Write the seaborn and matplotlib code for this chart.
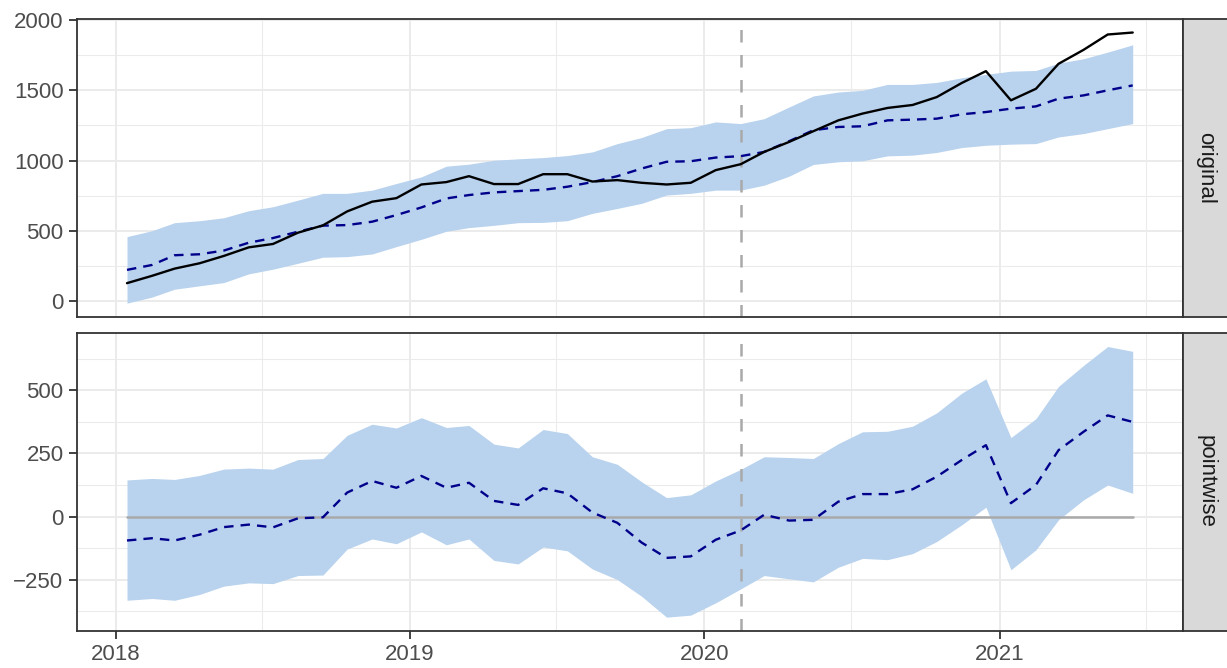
import numpy as np
import pandas as pd
import matplotlib
matplotlib.use("Agg")
import matplotlib.pyplot as plt
import matplotlib.dates as mdates
import seaborn as sns

# --------------------------
# Data
# --------------------------
dates = pd.date_range("2018-01-01", periods=42, freq="MS") + pd.Timedelta(days=14)
intervention = pd.Timestamp("2020-02-15")
panel_labels = ["original", "pointwise"]

observed = [130, 182, 233, 271, 323, 384, 408, 488, 540, 639, 708, 733, 830, 847,
            889, 833, 833, 903, 903, 851, 861, 842, 830, 842, 932, 974, 1061, 1132,
            1208, 1285, 1333, 1373, 1394, 1450, 1550, 1634, 1427, 1509, 1686, 1785,
            1894, 1908]
pred_mean = [224, 259, 328, 335, 361, 417, 450, 495, 538, 542, 566, 613, 667, 731,
             755, 774, 783, 792, 814, 847, 889, 943, 991, 995, 1021, 1031, 1061, 1137,
             1215, 1238, 1243, 1285, 1290, 1297, 1328, 1344, 1368, 1384, 1439, 1462,
             1498, 1533]
pred_upper = [460, 502, 559, 573, 594, 644, 672, 719, 767, 767, 790, 837, 884, 960,
              974, 1002, 1012, 1021, 1035, 1061, 1120, 1163, 1226, 1233, 1274, 1262,
              1297, 1380, 1458, 1486, 1498, 1540, 1540, 1554, 1587, 1611, 1634, 1639,
              1691, 1722, 1769, 1821]
pred_lower = [-12, 31, 87, 111, 134, 196, 229, 271, 314, 318, 337, 389, 441, 498,
              524, 540, 559, 561, 573, 625, 660, 696, 755, 767, 790, 790, 825, 889,
              972, 991, 998, 1033, 1038, 1057, 1092, 1108, 1116, 1120, 1167, 1191,
              1226, 1262]

point_mean = [-95, -86, -95, -72, -42, -32, -43, -7, -3, 95, 141, 114, 161, 114,
              134, 62, 46, 112, 92, 16, -25, -103, -164, -158, -92, -55, 7, -16,
              -13, 59, 89, 89, 108, 158, 224, 283, 53, 125, 263, 336, 401, 375]
point_upper = [145, 151, 147, 163, 188, 192, 188, 226, 230, 322, 366, 351, 392, 353,
               361, 287, 272, 345, 329, 237, 207, 138, 75, 86, 141, 187, 237, 234,
               230, 289, 336, 338, 358, 411, 489, 546, 313, 388, 516, 599, 674, 655]
point_lower = [-332, -325, -332, -309, -276, -263, -266, -234, -232, -129, -89, -108,
               -61, -112, -89, -174, -188, -121, -136, -208, -250, -316, -399, -391,
               -342, -287, -234, -247, -259, -201, -166, -171, -147, -99, -33, 37,
               -211, -132, -13, 66, 125, 92]

# --------------------------
# Styling
# --------------------------
sns.set_theme(style="white")
plt.rcParams["font.family"] = ["Liberation Sans", "DejaVu Sans"]

FILL = "#B9D3EE"
DARKBLUE = "#00008B"
GREY = "#A9A9A9"
GRID = "#EBEBEB"
BORDER = "#333333"
TEXT = "#4D4D4D"
FS = 16
LW = 1.7

W, H = 1227, 668
fig = plt.figure(figsize=(W / 100, H / 100), dpi=100)


def rect(x0, y0, x1, y1):
    return [x0 / W, 1 - y1 / H, (x1 - x0) / W, (y1 - y0) / H]


def expand(lo, hi, frac=0.05):
    span = hi - lo
    return lo - frac * span, hi + frac * span


def style_panel(ax, ylim, majors, minors):
    ax.set_ylim(*ylim)
    ax.set_xlim(*expand(mdates.date2num(dates[0]), mdates.date2num(dates[-1])))
    ax.set_yticks(majors)
    ax.set_yticks(minors, minor=True)
    ax.xaxis.set_major_locator(mdates.YearLocator())
    ax.xaxis.set_minor_locator(mdates.MonthLocator(bymonth=7))
    ax.xaxis.set_major_formatter(mdates.DateFormatter("%Y"))
    ax.grid(which="major", color=GRID, lw=1.4)
    ax.grid(which="minor", color=GRID, lw=0.75)
    ax.set_axisbelow(True)
    for s in ax.spines.values():
        s.set_color(BORDER)
        s.set_linewidth(1.3)
    ax.tick_params(which="major", length=5.5, width=1.3, color=BORDER,
                   labelcolor=TEXT, labelsize=FS, pad=4,
                   left=True, bottom=True)
    ax.tick_params(which="minor", length=0)
    ax.set_xlabel("")
    ax.set_ylabel("")


def add_strip(y0, y1, label):
    sax = fig.add_axes(rect(1183, y0, 1229, y1))
    sax.set_facecolor("#D9D9D9")
    sax.set_xticks([])
    sax.set_yticks([])
    for s in sax.spines.values():
        s.set_color(BORDER)
        s.set_linewidth(1.3)
    sax.text(0.5, 0.5, label, rotation=-90, ha="center", va="center",
             fontsize=FS, color="#1A1A1A", transform=sax.transAxes)


# --------------------------
# Top panel: original
# --------------------------
ax1 = fig.add_axes(rect(76.7, 19, 1183, 316.7))
ax1.fill_between(dates, pred_lower, pred_upper, color=FILL, lw=0)
ax1.axvline(intervention, color=GREY, lw=1.8, linestyle=(0, (5, 5)))
sns.lineplot(x=dates, y=pred_mean, ax=ax1, color=DARKBLUE, lw=LW,
             linestyle=(0, (4, 3)))
sns.lineplot(x=dates, y=observed, ax=ax1, color="black", lw=LW)
top_lo = min(min(pred_lower), min(observed))
top_hi = max(max(pred_upper), max(observed))
style_panel(ax1, expand(top_lo, top_hi), [0, 500, 1000, 1500, 2000],
            [250, 750, 1250, 1750])
ax1.tick_params(axis="x", which="major", bottom=False, labelbottom=False)
add_strip(19, 316.7, panel_labels[0])

# --------------------------
# Bottom panel: pointwise
# --------------------------
ax2 = fig.add_axes(rect(76.7, 333, 1183, 630.7))
ax2.fill_between(dates, point_lower, point_upper, color=FILL, lw=0)
sns.lineplot(x=dates, y=np.zeros(len(dates)), ax=ax2, color=GREY, lw=1.8)
ax2.axvline(intervention, color=GREY, lw=1.8, linestyle=(0, (5, 5)))
sns.lineplot(x=dates, y=point_mean, ax=ax2, color=DARKBLUE, lw=LW,
             linestyle=(0, (4, 3)))
style_panel(ax2, expand(min(point_lower), max(point_upper)), [-250, 0, 250, 500],
            [-375, -125, 125, 375, 625])
add_strip(333, 630.7, panel_labels[1])

fig.savefig("out.png", dpi=100)
